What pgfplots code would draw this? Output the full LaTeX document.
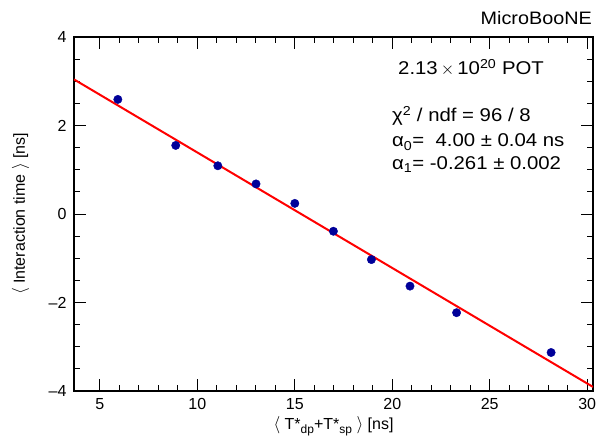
\documentclass[border=0pt]{standalone}
\usepackage{fontspec}
\setmainfont{Liberation Sans}
\newfontfamily\widefont[FakeStretch=1.1]{Liberation Sans}
\usepackage{pgfplots}
\pgfplotsset{compat=1.18}
\definecolor{ptblue}{RGB}{0,0,153}
\pgfplotstableread{
x y
5.92 2.59
8.89 1.55
11.05 1.09
13.01 0.68
15.00 0.24
16.98 -0.39
18.93 -1.03
20.91 -1.63
23.30 -2.23
28.15 -3.13
}\datatable
\begin{document}
\begin{tikzpicture}
\useasboundingbox (0pt,0pt) rectangle (598pt,437pt);
\begin{axis}[
  at={(74pt,46pt)}, anchor=south west,
  scale only axis, width=519pt, height=354pt,
  xmin=3.67, xmax=30.3, ymin=-4, ymax=4,
  xtick={5,10,...,30}, minor x tick num=4,
  ytick={-4,-2,0,2,4}, yticklabels={–4,–2,0,2,4}, minor y tick num=3,
  tick align=inside, tick pos=both,
  major tick length=12pt, minor tick length=6pt,
  axis line style={line width=1.3pt},
  every tick/.style={black, line width=1pt},
  tick label style={font=\fontsize{16}{16}\selectfont},
  /pgf/number format/assume math mode=true,
  xticklabel style={yshift=-4pt},
  yticklabel style={xshift=-4pt},
  xlabel={$\langle$ T*\raisebox{-0.5ex}{\fontsize{12}{12}\selectfont dp}+T*\raisebox{-0.5ex}{\fontsize{12}{12}\selectfont sp} $\rangle$ [ns]},
  ylabel={$\langle$ Interaction time $\rangle$ [ns]},
  every axis x label/.style={at={(axis description cs:0.5,0)}, anchor=base, yshift=-38pt, font=\fontsize{16}{16}\selectfont},
  every axis y label/.style={at={(axis description cs:0,0.5)}, anchor=base, rotate=90, yshift=49pt, font=\fontsize{16}{16}\selectfont},
  clip=true,
]
\addplot[red, line width=2pt] coordinates {(3.67,3.042) (30.3,-3.908)};
\addplot[only marks, mark=*, mark size=4.2pt, color=ptblue] table[x=x,y=y] {\datatable};
\end{axis}
\node[anchor=base east, font=\widefont\fontsize{18}{18}\selectfont, inner sep=0pt] at (592pt,412pt) {MicroBooNE};
\node[anchor=base west, font=\widefont\fontsize{18.5}{18.5}\selectfont, inner sep=0pt] at (398pt,362pt) {2.13\,$\times$\,10\textsuperscript{20} POT};
\node[anchor=base west, font=\widefont\fontsize{18.5}{18.5}\selectfont, inner sep=0pt] at (392pt,315pt) {χ\textsuperscript{2} / ndf = 96 / 8};
\node[anchor=base west, font=\widefont\fontsize{18.5}{18.5}\selectfont, inner sep=0pt] at (392pt,290pt) {α\textsubscript{0}=~ 4.00 ± 0.04 ns};
\node[anchor=base west, font=\widefont\fontsize{18.5}{18.5}\selectfont, inner sep=0pt] at (392pt,267pt) {α\textsubscript{1}= -0.261 ± 0.002};
\end{tikzpicture}
\end{document}
